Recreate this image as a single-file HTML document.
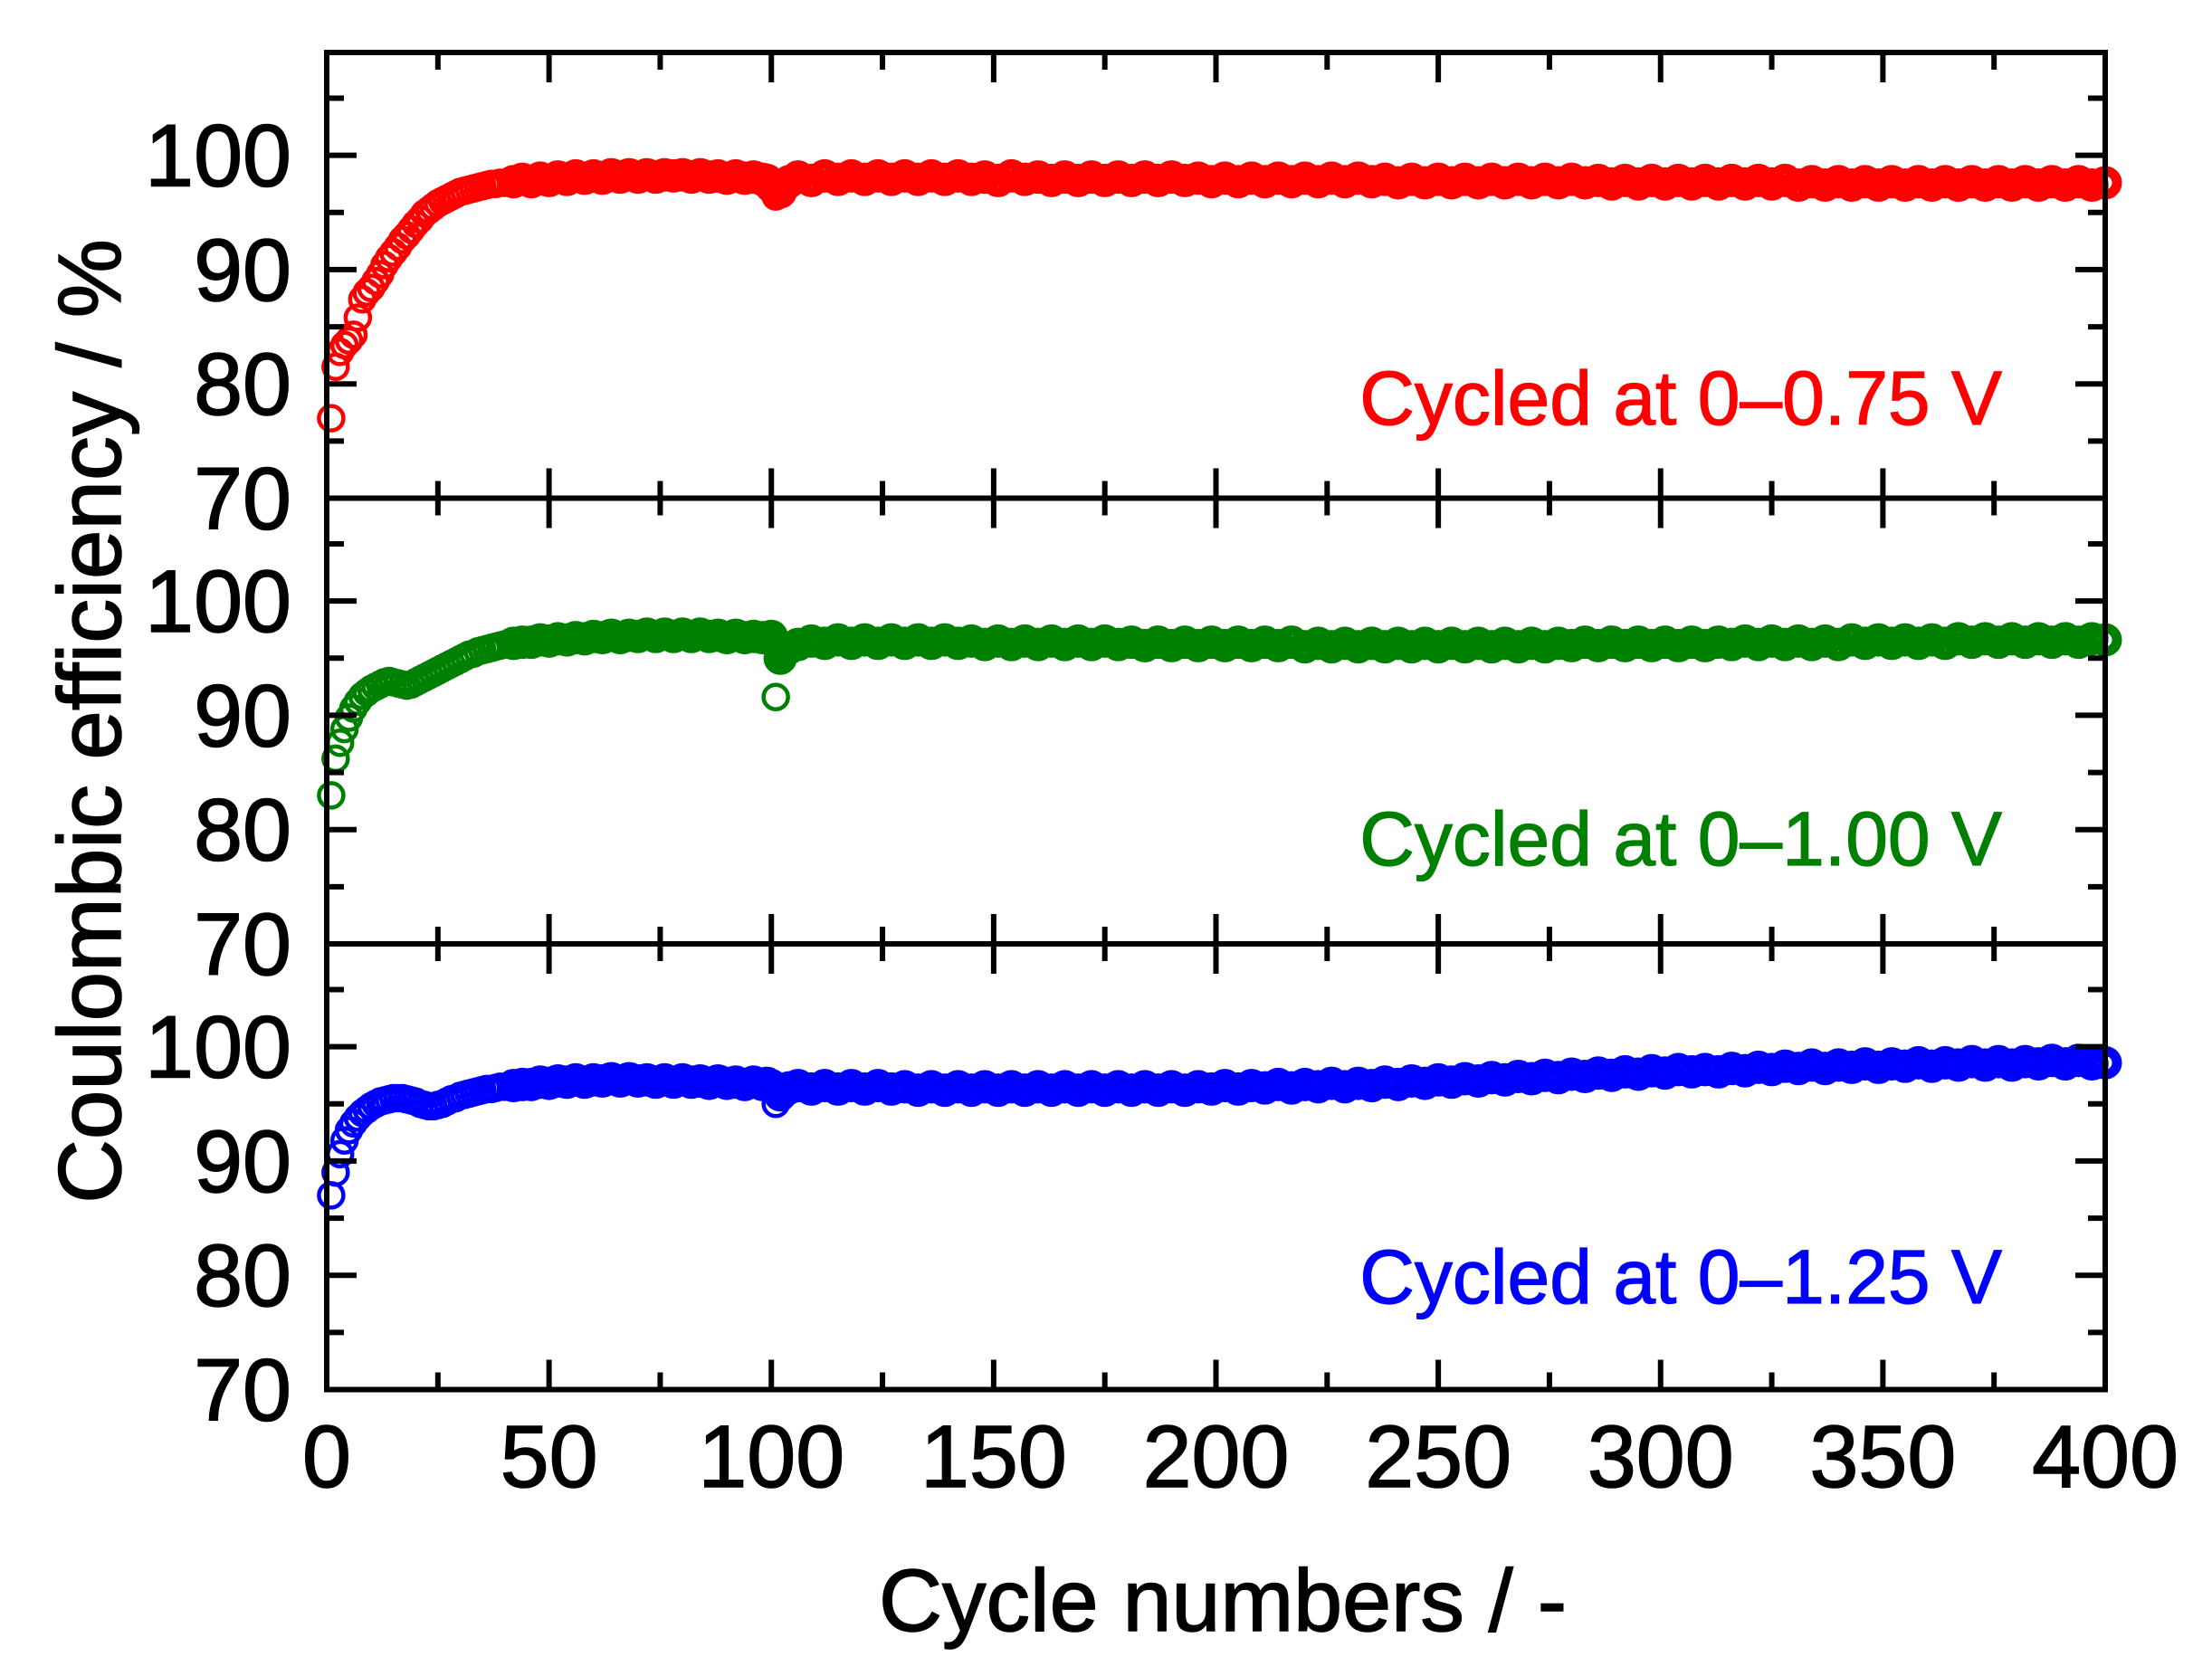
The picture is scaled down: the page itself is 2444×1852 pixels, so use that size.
<!DOCTYPE html>
<html><head><meta charset="utf-8">
<style>html,body{margin:0;padding:0;background:#fff;}svg{display:block;}</style>
</head><body>
<svg id="chart" xmlns="http://www.w3.org/2000/svg" width="2444" height="1852" viewBox="0 0 2444 1852">
<rect x="0" y="0" width="2444" height="1852" fill="#fff"/>
<g id="marks"></g>
<g id="axes"></g>
<text x="1351" y="1802" font-family="Liberation Sans, sans-serif" font-size="97" text-anchor="middle" fill="#000" stroke="#000" stroke-width="1.5">Cycle numbers / -</text>
<text transform="translate(133,797) rotate(-90)" font-family="Liberation Sans, sans-serif" font-size="98" text-anchor="middle" fill="#000" stroke="#000" stroke-width="1.5">Coulombic efficiency / %</text>
<text x="2212" y="469" font-family="Liberation Sans, sans-serif" font-size="84" text-anchor="end" fill="#ff0000" stroke="#ff0000" stroke-width="1.2">Cycled at 0–0.75 V</text>
<text x="2212" y="956" font-family="Liberation Sans, sans-serif" font-size="84" text-anchor="end" fill="#008000" stroke="#008000" stroke-width="1.2">Cycled at 0–1.00 V</text>
<text x="2212" y="1440" font-family="Liberation Sans, sans-serif" font-size="84" text-anchor="end" fill="#0000ff" stroke="#0000ff" stroke-width="1.2">Cycled at 0–1.25 V</text>
</svg>
<script>
const cycles = [1,2,3,4,5,6,7,8,9,10,11,12,13,14,15,16,17,18,19,20,21,22,23,24,25,26,27,28,29,30,31,32,33,34,35,36,37,38,39,40,
42,44,46,48,50,52,54,56,58,60,62,64,66,68,70,72,74,76,78,80,82,84,86,88,90,92,94,96,98,
99,100,101,102,103,104,
106,109,112,115,118,121,124,127,130,
133,136,139,142,145,148,151,154,157,
160,163,166,169,172,175,178,181,184,
187,190,193,196,199,202,205,208,211,
214,217,220,223,226,229,232,235,238,
241,244,247,250,253,256,259,262,265,
268,271,274,277,280,283,286,289,292,
295,298,301,304,307,310,313,316,319,
322,325,328,331,334,337,340,343,346,
349,352,355,358,361,364,367,370,373,
376,379,382,385,388,391,394,397,400];
const ceRed = [77,81.5,82.8,83.4,83.8,84.3,85.8,87.4,88,88.4,89,89.6,90.4,91,91.5,92,92.6,93,93.5,94,94.4,94.9,95.2,95.5,95.8,96,96.2,96.4,96.6,96.8,96.9,97,97.1,97.2,97.3,97.4,97.5,97.5,97.6,97.6,
97.7,97.9,97.7,98,97.8,98.1,97.9,98.2,98,98.2,98,98.3,98.1,98.3,98.1,98.3,98.1,98.3,98.2,98.3,98.1,98.3,98.1,98.2,98,98.2,98,98.1,97.9,
97.8,97.3,96.4,96.8,97.4,97.7,
98.1,97.8,98.2,97.9,98.2,97.9,98.2,97.9,98.2,
97.9,98.2,97.9,98.2,97.9,98.1,97.8,98.2,97.9,
98.1,97.8,98.1,97.8,98.1,97.8,98.1,97.8,98.1,
97.8,98.1,97.8,98.0,97.7,98.0,97.7,98.0,97.7,
98.0,97.7,98.0,97.7,98.0,97.7,98.0,97.7,97.9,
97.6,97.9,97.6,97.9,97.6,97.9,97.6,97.9,97.6,
97.9,97.6,97.9,97.6,97.9,97.6,97.8,97.5,97.8,
97.5,97.8,97.5,97.8,97.5,97.8,97.5,97.8,97.5,
97.8,97.5,97.8,97.4,97.7,97.4,97.7,97.4,97.7,
97.4,97.7,97.4,97.7,97.4,97.7,97.4,97.7,97.4,
97.7,97.4,97.7,97.4,97.7,97.4,97.7,97.4,97.6];
const ceGreen = [83,86.2,87.6,88.8,89.8,90.6,91.2,91.7,92,92.3,92.5,92.7,92.9,93,92.9,92.8,92.7,92.6,92.7,92.9,93.1,93.3,93.5,93.7,93.9,94.1,94.3,94.5,94.7,94.9,95.1,95.3,95.4,95.6,95.7,95.8,95.9,96,96.1,96.2,
96.3,96.4,96.4,96.6,96.5,96.7,96.6,96.8,96.7,96.9,96.8,97,96.8,97,96.9,97.1,96.9,97.1,96.9,97.1,96.9,97.1,96.9,97,96.8,97,96.8,96.9,96.8,
96.8,96.9,91.6,95,95.6,95.9,
96.2,96.5,96.3,96.6,96.3,96.6,96.3,96.6,96.3,
96.6,96.3,96.6,96.3,96.5,96.2,96.5,96.2,96.5,
96.2,96.5,96.2,96.5,96.2,96.5,96.2,96.4,96.1,
96.4,96.1,96.4,96.1,96.4,96.1,96.4,96.1,96.4,
96.1,96.4,96.0,96.3,96.0,96.3,96.0,96.3,96.0,
96.3,96.0,96.3,96.0,96.3,96.0,96.3,96.0,96.3,
96.0,96.3,96.0,96.3,96.1,96.4,96.1,96.4,96.1,
96.4,96.1,96.4,96.1,96.4,96.1,96.4,96.2,96.5,
96.2,96.5,96.2,96.5,96.2,96.5,96.2,96.6,96.3,
96.6,96.3,96.6,96.3,96.6,96.3,96.7,96.4,96.7,
96.4,96.7,96.4,96.7,96.4,96.7,96.4,96.7,96.6];
const ceBlue = [87,89,90.6,91.8,92.7,93.3,93.8,94.2,94.5,94.8,95,95.2,95.3,95.4,95.5,95.5,95.5,95.4,95.3,95.2,95,94.9,94.8,94.8,94.9,95,95.2,95.4,95.5,95.7,95.8,95.9,96,96.1,96.2,96.3,96.3,96.4,96.5,96.5,
96.6,96.7,96.7,96.9,96.8,97,96.9,97.1,96.9,97.1,97,97.2,97,97.2,97,97.1,96.9,97.1,96.9,97.1,96.9,97,96.8,97,96.8,96.9,96.7,96.9,96.7,
96.8,96.6,95,95.8,96.2,96.4,
96.6,96.3,96.6,96.3,96.6,96.3,96.6,96.3,96.5,
96.2,96.5,96.2,96.5,96.2,96.5,96.2,96.5,96.2,
96.5,96.2,96.5,96.2,96.5,96.2,96.5,96.2,96.5,
96.2,96.5,96.2,96.5,96.3,96.6,96.3,96.6,96.4,
96.7,96.4,96.7,96.5,96.8,96.5,96.8,96.6,96.9,
96.7,97.0,96.8,97.1,96.9,97.2,97.0,97.3,97.1,
97.4,97.2,97.5,97.3,97.6,97.4,97.7,97.5,97.8,
97.6,97.9,97.7,98.0,97.8,98.0,97.8,98.1,97.9,
98.2,98.0,98.3,98.1,98.4,98.1,98.4,98.2,98.5,
98.2,98.5,98.3,98.6,98.3,98.6,98.4,98.7,98.4,
98.7,98.4,98.7,98.5,98.8,98.5,98.8,98.5,98.6];
const xTickLabels = [0,50,100,150,200,250,300,350,400];
const xMinorTicks = [25,75,125,175,225,275,325,375];
const yTickLabels = [70,80,90,100];
const yMinorTicks = [75,85,95,105];

const NS = 'http://www.w3.org/2000/svg';
const L = 361, R = 2326, TOP0 = 58, PH = 492.5;
const XMIN = 0, XMAX = 400, YMIN = 70, YMAX = 109;
function xs(v){ return L + (v - XMIN) / (XMAX - XMIN) * (R - L); }
function ys(p, v){ const t = TOP0 + p * PH; return t + PH - (v - YMIN) / (YMAX - YMIN) * PH; }
function mk(tag, attrs, parent){ const e = document.createElementNS(NS, tag); for (const k in attrs) e.setAttribute(k, attrs[k]); parent.appendChild(e); return e; }

const marks = document.getElementById('marks');
const axes = document.getElementById('axes');
const series = [[ceRed,'#ff0000','red'],[ceGreen,'#008000','green'],[ceBlue,'#0000ff','blue']];
series.forEach((s, p) => {
  const g = mk('g', {}, marks);
  
  
  const n = Math.min(cycles.length, s[0].length);
  for (let i = 0; i < n; i++) {
    const dense = cycles[i] > 40 && cycles[i] !== 101;
    const c = mk('circle', {cx: xs(cycles[i]), cy: ys(p, s[0][i]), r: dense ? 13 : 13.5, fill: 'none', stroke: s[1], 'stroke-width': dense ? 11 : 4.5}, g);
    
    
  }
});

const AW = 6;
for (let p = 0; p < 3; p++) {
  const t = TOP0 + p * PH, b = t + PH;
  const fr = mk('rect', {x: L, y: t, width: R - L, height: PH, fill: 'none', stroke: '#000', 'stroke-width': AW}, axes);
  
  
  xTickLabels.forEach(v => {
    const x = xs(v);
    const a = mk('line', {x1: x, y1: b, x2: x, y2: b - 33, stroke: '#000', 'stroke-width': AW}, axes);
    
    
    const c = mk('line', {x1: x, y1: t, x2: x, y2: t + 33, stroke: '#000', 'stroke-width': AW}, axes);
    
    
  });
  xMinorTicks.forEach(v => {
    const x = xs(v);
    const a = mk('line', {x1: x, y1: b, x2: x, y2: b - 19, stroke: '#000', 'stroke-width': AW}, axes);
    
    
    const c = mk('line', {x1: x, y1: t, x2: x, y2: t + 19, stroke: '#000', 'stroke-width': AW}, axes);
    
    
  });
  yTickLabels.forEach(v => {
    const y = ys(p, v);
    const a = mk('line', {x1: L, y1: y, x2: L + 33, y2: y, stroke: '#000', 'stroke-width': AW}, axes);
    
    
    const c = mk('line', {x1: R, y1: y, x2: R - 33, y2: y, stroke: '#000', 'stroke-width': AW}, axes);
    
    
    const tx = mk('text', {x: 322, y: y + 34, 'font-family': 'Liberation Sans, sans-serif', 'font-size': 97, 'text-anchor': 'end', fill: '#000', stroke: '#000', 'stroke-width': 1.5}, axes);
    tx.textContent = String(v);
    
    
  });
  yMinorTicks.forEach(v => {
    const y = ys(p, v);
    const a = mk('line', {x1: L, y1: y, x2: L + 19, y2: y, stroke: '#000', 'stroke-width': AW}, axes);
    
    
    const c = mk('line', {x1: R, y1: y, x2: R - 19, y2: y, stroke: '#000', 'stroke-width': AW}, axes);
    
    
  });
}
xTickLabels.forEach(v => {
  const tx = mk('text', {x: xs(v), y: 1643, 'font-family': 'Liberation Sans, sans-serif', 'font-size': 97, 'text-anchor': 'middle', fill: '#000', stroke: '#000', 'stroke-width': 1.5}, axes);
  tx.textContent = String(v);
  
  
});
</script>
</body></html>
